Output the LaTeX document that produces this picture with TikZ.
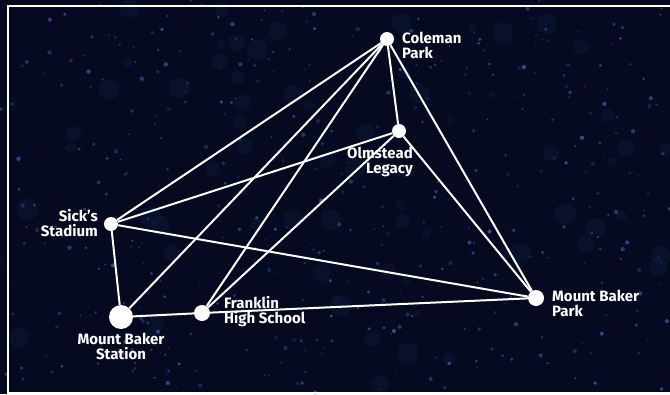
\documentclass[tikz,border=0pt]{standalone}
\usepackage{fontspec}
\setmainfont{Fira Sans}
\usetikzlibrary{positioning}

\definecolor{nightsky}{RGB}{5,10,32}
\definecolor{starblue}{RGB}{60,105,200}

\begin{document}
\begin{tikzpicture}[
x=1pt, y=-1pt,
stop/.style={circle, fill=white, draw=none, inner sep=0pt, minimum size=14pt},
bigstop/.style={stop, minimum size=24pt},
place/.style={text=white, font=\bfseries\fontsize{15}{15}\selectfont, align=left, inner sep=0pt},
link/.style={draw=white, line width=2pt}
]

% ------------------------
% Sky background
% ------------------------
\useasboundingbox (0,0) rectangle (670,394);
\fill[nightsky] (0,0) rectangle (670,394);
\pgfmathsetseed{4217}
\foreach \i in {1,...,70} {
  \pgfmathsetmacro{\sx}{rnd*670}
  \pgfmathsetmacro{\sy}{rnd*394}
  \pgfmathsetmacro{\sr}{4+rnd*7}
  \fill[starblue, opacity=0.07] (\sx,\sy) circle (\sr pt);
}
\foreach \i in {1,...,450} {
  \pgfmathsetmacro{\sx}{rnd*670}
  \pgfmathsetmacro{\sy}{rnd*394}
  \pgfmathsetmacro{\sr}{0.6+rnd*1.6}
  \pgfmathsetmacro{\so}{0.2+rnd*0.5}
  \fill[starblue, opacity=\so] (\sx,\sy) circle (\sr pt);
}
\draw[white, line width=2pt] (8,6) rectangle (680,393);

% ------------------------
% Stops
% ------------------------
\node[stop] (coleman) at (387,39) {};
\node[stop] (olmstead) at (399,131) {};
\node[stop] (sicks) at (111,224) {};
\node[bigstop] (mbstation) at (121,317) {};
\node[stop, minimum size=16pt] (franklin) at (202,313) {};
\node[stop, minimum size=16pt] (mbpark) at (536,298) {};

% Labels
\node[place, anchor=north west] (colemanlbl) at ([shift={(15,-7)}]coleman) {Coleman\\Park};
\node[place, anchor=north east, align=right] (olmsteadlbl) at ([shift={(14,16)}]olmstead) {Olmstead\\Legacy};
\node[place, anchor=north east, align=right] (sickslbl) at ([shift={(-13,-15)}]sicks) {Sick’s\\Stadium};
\node[place, anchor=north, align=center] (mbstationlbl) at ([shift={(0,16)}]mbstation) {Mount Baker\\Station};
\node[place, anchor=north west] (franklinlbl) at ([shift={(22,-17)}]franklin) {Franklin\\High School};
\node[place, anchor=north west] (mbparklbl) at ([shift={(16,-8)}]mbpark) {Mount Baker\\Park};

% ------------------------
% Links
% ------------------------
\path[link] (coleman) -- (sicks);
\path[link] (coleman) -- (mbstation);
\path[link] (coleman) -- (franklin);
\path[link] (coleman) -- (olmstead);
\path[link] (coleman) -- (mbpark);
\path[link] (olmstead) -- (sicks);
\path[link] (olmstead) -- (franklin);
\path[link] (olmstead) -- (mbpark);
\path[link] (sicks) -- (mbstation);
\path[link] (sicks) -- (mbpark);
\path[link] (mbstation) -- (franklin);
\path[link] (franklin) -- (mbpark);

\end{tikzpicture}
\end{document}
